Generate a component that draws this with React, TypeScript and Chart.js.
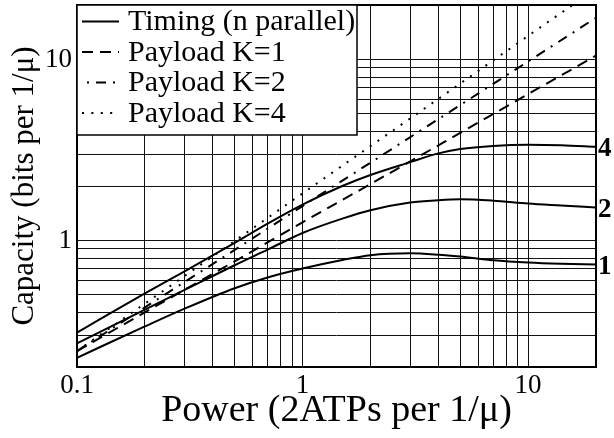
import React, { useEffect, useRef } from "react";
import { Chart, registerables } from "chart.js";

Chart.register(...registerables);

const FONT = "'Liberation Serif', 'Times New Roman', serif";

// Grid / tick values
const xGridValues = [0.1, 0.2, 0.3, 0.4, 0.5, 0.6, 0.7, 0.8, 0.9, 1, 2, 3, 4, 5, 6, 7, 8, 9, 10, 20];
const yGridValues = [0.2, 0.3, 0.4, 0.5, 0.6, 0.7, 0.8, 0.9, 1, 2, 3, 4, 5, 6, 7, 8, 9, 10, 20];
const xTickLabels = [0.1, 1, 10];
const yTickLabels = [1, 10];

// Timing (n parallel) curves
const timingPower = [0.1, 0.2, 0.3, 0.5, 0.7, 1, 1.5, 2, 3, 4, 5, 7, 10, 14, 20];
const timingN1 = [0.225, 0.335, 0.42, 0.545, 0.625, 0.7, 0.78, 0.83, 0.85, 0.835, 0.815, 0.778, 0.755, 0.743, 0.736];
const timingN2 = [0.27, 0.415, 0.533, 0.73, 0.89, 1.1, 1.32, 1.47, 1.62, 1.67, 1.69, 1.66, 1.6, 1.56, 1.52];
const timingN4 = [0.31, 0.51, 0.675, 0.97, 1.24, 1.58, 2.0, 2.3, 2.71, 3.03, 3.2, 3.33, 3.38, 3.36, 3.29];

// Payload curves
const payloadPower = [0.1, 0.2, 0.5, 1, 2, 5, 10, 20];
const payloadK1 = [0.245, 0.401, 0.767, 1.26, 2.05, 3.93, 6.44, 10.5];
const payloadK2 = [0.245, 0.427, 0.887, 1.55, 2.69, 5.6, 9.75, 17.0];
const payloadK4 = [0.245, 0.448, 0.993, 1.82, 3.32, 7.36, 13.5, 24.6];

const legendLabels = ["Timing (n parallel)", "Payload K=1", "Payload K=2", "Payload K=4"];
const sideLabels = ["1", "2", "4"];

const toPts = (xs: number[], ys: number[]) => xs.map((x, i) => ({ x, y: ys[i] }));

const overlayPlugin = {
  id: "overlay",
  afterDraw(chart: any) {
    const ctx = chart.ctx;
    const ca = chart.chartArea;
    ctx.save();
    // frame
    ctx.strokeStyle = "#000";
    ctx.lineWidth = 2;
    ctx.setLineDash([]);
    ctx.strokeRect(ca.left, ca.top, ca.right - ca.left, ca.bottom - ca.top);

    // side labels at the end of each timing curve
    ctx.fillStyle = "#000";
    ctx.font = `bold 27px ${FONT}`;
    ctx.textAlign = "left";
    ctx.textBaseline = "middle";
    for (let i = 0; i < 3; i++) {
      const meta = chart.getDatasetMeta(i);
      const pt = meta.data[meta.data.length - 1];
      ctx.fillText(sideLabels[i], ca.right + 2, pt.y + 2);
    }

    // legend box
    const bx = ca.left;
    const by = ca.top;
    const bw = 280;
    const bh = 130;
    ctx.fillStyle = "#fff";
    ctx.fillRect(bx, by, bw, bh);
    ctx.lineWidth = 1.5;
    ctx.strokeStyle = "#000";
    ctx.strokeRect(bx, by, bw, bh);
    const dsIdx = [0, 3, 4, 5];
    const offsets = [0, 0, 12, 0];
    legendLabels.forEach((label, i) => {
      const y = by + 16.5 + i * 30.5;
      const ds = chart.data.datasets[dsIdx[i]];
      ctx.setLineDash(ds.borderDash || []);
      ctx.lineDashOffset = offsets[i];
      ctx.lineWidth = 2;
      ctx.strokeStyle = "#000";
      ctx.beginPath();
      ctx.moveTo(bx + 5, y);
      ctx.lineTo(bx + 42, y);
      ctx.stroke();
      ctx.setLineDash([]);
      ctx.lineDashOffset = 0;
      ctx.fillStyle = "#000";
      ctx.font = `30px ${FONT}`;
      ctx.textAlign = "left";
      ctx.textBaseline = "middle";
      ctx.fillText(label, bx + 51, y + 1);
    });
    ctx.restore();
  },
};

export default function App() {
  const ref = useRef<HTMLCanvasElement | null>(null);

  useEffect(() => {
    if (!ref.current) return;
    const common = {
      borderColor: "#000",
      backgroundColor: "#000",
      borderWidth: 2,
      pointRadius: 0,
      fill: false,
      cubicInterpolationMode: "monotone" as const,
    };
    const chart = new Chart(ref.current, {
      type: "line",
      data: {
        datasets: [
          { ...common, label: "Timing n=1", data: toPts(timingPower, timingN1) },
          { ...common, label: "Timing n=2", data: toPts(timingPower, timingN2) },
          { ...common, label: "Timing n=4", data: toPts(timingPower, timingN4) },
          { ...common, label: legendLabels[1], data: toPts(payloadPower, payloadK1), borderDash: [11, 7] },
          { ...common, label: legendLabels[2], data: toPts(payloadPower, payloadK2), borderDash: [10, 7, 2, 7] },
          { ...common, label: legendLabels[3], data: toPts(payloadPower, payloadK4), borderDash: [2, 7.4] },
        ],
      },
      options: {
        animation: false,
        responsive: false,
        maintainAspectRatio: false,
        layout: { padding: { left: 0, right: 18, top: 5, bottom: 0 } },
        plugins: { legend: { display: false }, tooltip: { enabled: false } },
        scales: {
          x: {
            type: "logarithmic",
            min: 0.1,
            max: 20,
            afterBuildTicks: (s: any) => {
              s.ticks = xGridValues.map((v) => ({ value: v }));
            },
            afterFit: (s: any) => {
              s.height = 71;
              s.paddingLeft = 0;
              s.paddingRight = 0;
            },
            grid: { color: "#111", lineWidth: 1, drawTicks: false },
            border: { display: false },
            ticks: {
              autoSkip: false,
              maxRotation: 0,
              minRotation: 0,
              padding: 3,
              color: "#000",
              font: { family: FONT, size: 27 },
              callback: (v: any) => (xTickLabels.includes(Number(v)) ? String(v) : ""),
            },
            title: {
              display: true,
              text: "Power (2ATPs per 1/μ)",
              color: "#000",
              font: { family: FONT, size: 38, lineHeight: 1 },
              padding: { top: 0, bottom: 8 },
            },
          },
          y: {
            type: "logarithmic",
            min: 0.2,
            max: 20,
            afterBuildTicks: (s: any) => {
              s.ticks = yGridValues.map((v) => ({ value: v }));
            },
            afterFit: (s: any) => {
              s.width = 77;
              s.paddingTop = 0;
              s.paddingBottom = 0;
            },
            grid: { color: "#111", lineWidth: 1, drawTicks: false },
            border: { display: false },
            ticks: {
              autoSkip: false,
              padding: 5,
              color: "#000",
              font: { family: FONT, size: 27 },
              callback: (v: any) => (yTickLabels.includes(Number(v)) ? String(v) : ""),
            },
            title: {
              display: true,
              text: "Capacity (bits per 1/μ)",
              color: "#000",
              font: { family: FONT, size: 31, lineHeight: 1 },
              padding: { top: 9, bottom: 0 },
            },
          },
        },
      },
      plugins: [overlayPlugin],
    });
    return () => chart.destroy();
  }, []);

  return (
    <div style={{ position: "absolute", left: 0, top: 0, width: 614, height: 438, background: "#fff" }}>
      <canvas ref={ref} width={614} height={438} style={{ width: 614, height: 438 }} />
    </div>
  );
}
